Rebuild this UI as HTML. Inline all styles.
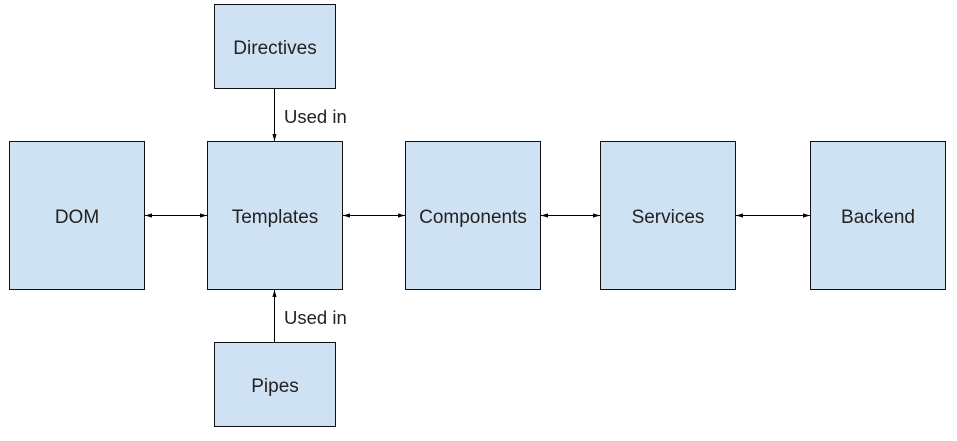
<!DOCTYPE html>
<html><head><style>
body{margin:0;background:#fff;width:957px;height:436px;overflow:hidden}
svg text{font-family:"Liberation Sans",Arial,sans-serif;font-size:19px;fill:#222}
</style></head><body>
<svg width="957" height="436" viewBox="0 0 957 436">
<defs>
<marker id="a" viewBox="0 0 10 10" refX="10" refY="5" markerWidth="7" markerHeight="7" orient="auto-start-reverse"><path d="M0,2 L10,5 L0,8 z" fill="#000"/></marker>
</defs>
<g fill="#cfe2f3" stroke="#111" stroke-width="1">
<rect x="9.5" y="141.5" width="135" height="148"/>
<rect x="207.5" y="141.5" width="135" height="148"/>
<rect x="405.5" y="141.5" width="135" height="148"/>
<rect x="600.5" y="141.5" width="135" height="148"/>
<rect x="810.5" y="141.5" width="135" height="148"/>
<rect x="214.5" y="4.5" width="121" height="84"/>
<rect x="214.5" y="342.5" width="121" height="84"/>
</g>
<g stroke="#000" stroke-width="1" marker-start="url(#a)" marker-end="url(#a)">
<line x1="145" y1="215.5" x2="207" y2="215.5"/>
<line x1="343" y1="215.5" x2="405" y2="215.5"/>
<line x1="541" y1="215.5" x2="600" y2="215.5"/>
<line x1="736" y1="215.5" x2="810" y2="215.5"/>
</g>
<g stroke="#000" stroke-width="1">
<line x1="274.5" y1="89" x2="274.5" y2="141" marker-end="url(#a)"/>
<line x1="274.5" y1="342" x2="274.5" y2="290" marker-end="url(#a)"/>
</g>
<g text-anchor="middle">
<text x="77" y="223">DOM</text>
<text x="275" y="223">Templates</text>
<text x="473" y="223">Components</text>
<text x="668" y="223">Services</text>
<text x="878" y="223">Backend</text>
<text x="275" y="54">Directives</text>
<text x="275" y="392">Pipes</text>
</g>
<text x="284" y="123" style="font-size:18.5px">Used in</text>
<text x="284" y="324" style="font-size:18.5px">Used in</text>
</svg>
</body></html>
